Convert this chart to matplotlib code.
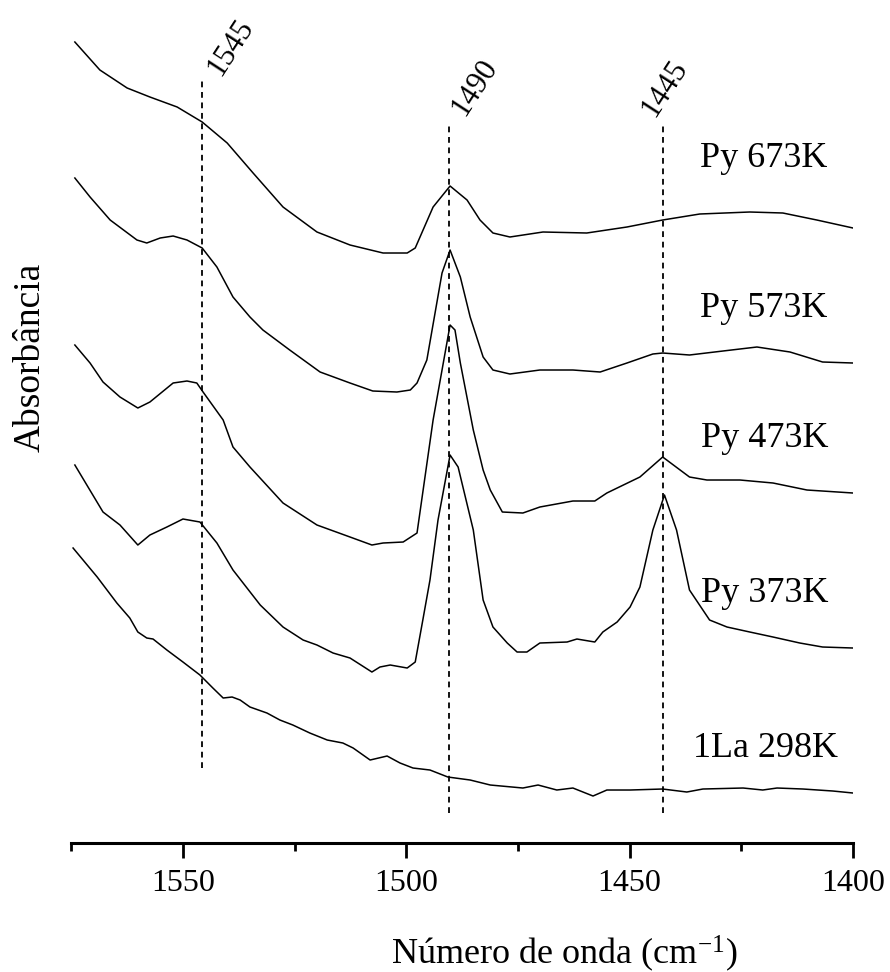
import matplotlib
matplotlib.use('Agg')
import matplotlib.pyplot as plt

plt.rcParams['font.family'] = ['Liberation Serif', 'DejaVu Serif']
plt.rcParams['mathtext.fontset'] = 'custom'
plt.rcParams['mathtext.rm'] = 'Liberation Serif'
plt.rcParams['mathtext.it'] = 'Liberation Serif:italic'

# ---- data (wavenumber cm-1, absorbance in arbitrary stacked units) ----
wn_673 = [1574.2, 1568.6, 1562.5, 1557.4, 1551.3, 1545.7, 1540.1, 1534.3, 1527.6, 1520.0,
          1512.6, 1505.2, 1499.8, 1498.0, 1494.0, 1490.2, 1486.4, 1483.5, 1480.6, 1476.8,
          1469.4, 1459.6, 1450.6, 1442.6, 1434.3, 1423.1, 1415.7, 1408.1, 1400.0]
abs_673 = [8.01, 7.73, 7.55, 7.46, 7.36, 7.21, 7.00, 6.70, 6.36, 6.11,
           5.98, 5.90, 5.90, 5.95, 6.36, 6.57, 6.43, 6.23, 6.10, 6.06,
           6.11, 6.10, 6.16, 6.23, 6.29, 6.31, 6.30, 6.23, 6.15]

wn_573 = [1574.2, 1570.8, 1566.3, 1560.3, 1558.1, 1555.1, 1552.2, 1549.1, 1545.7, 1542.4,
          1538.8, 1535.0, 1532.1, 1526.1, 1519.3, 1512.6, 1507.5, 1502.1, 1499.1, 1497.6,
          1495.4, 1492.0, 1490.2, 1487.9, 1485.7, 1482.8, 1480.6, 1476.8, 1470.1, 1462.7,
          1456.6, 1450.6, 1444.8, 1442.6, 1436.6, 1429.1, 1421.5, 1414.1, 1406.8, 1400.0]
abs_573 = [6.65, 6.46, 6.23, 6.03, 6.00, 6.05, 6.07, 6.03, 5.95, 5.76,
           5.46, 5.26, 5.13, 4.93, 4.71, 4.60, 4.52, 4.51, 4.53, 4.60,
           4.83, 5.70, 5.93, 5.66, 5.26, 4.86, 4.73, 4.69, 4.73, 4.73,
           4.71, 4.80, 4.89, 4.90, 4.88, 4.92, 4.96, 4.91, 4.81, 4.80]

wn_473 = [1574.2, 1570.8, 1567.9, 1564.1, 1560.1, 1557.4, 1552.2, 1549.1, 1546.9, 1545.5,
          1541.0, 1538.8, 1535.0, 1527.6, 1520.0, 1512.6, 1507.7, 1505.2, 1500.7, 1497.6,
          1494.0, 1490.2, 1489.1, 1487.9, 1485.0, 1482.8, 1481.2, 1478.5, 1473.9, 1470.1,
          1462.7, 1457.8, 1455.1, 1447.7, 1442.6, 1436.6, 1432.7, 1425.3, 1417.9, 1410.3,
          1400.0]
abs_473 = [4.98, 4.80, 4.61, 4.46, 4.35, 4.41, 4.60, 4.62, 4.60, 4.51,
           4.23, 3.96, 3.76, 3.40, 3.18, 3.06, 2.98, 3.00, 3.01, 3.10,
           4.23, 5.18, 5.13, 4.80, 4.13, 3.73, 3.53, 3.31, 3.30, 3.36,
           3.42, 3.42, 3.50, 3.66, 3.86, 3.66, 3.63, 3.63, 3.60, 3.53,
           3.50]

wn_373 = [1574.2, 1567.9, 1564.1, 1560.1, 1557.4, 1553.6, 1550.0, 1546.2, 1542.4, 1538.8,
          1532.7, 1527.6, 1523.1, 1520.0, 1516.4, 1512.6, 1507.7, 1505.9, 1503.6, 1499.8,
          1498.0, 1496.3, 1494.7, 1492.9, 1490.2, 1488.4, 1485.0, 1482.8, 1480.6, 1477.4,
          1475.2, 1473.0, 1470.1, 1464.0, 1461.8, 1457.8, 1456.0, 1452.8, 1449.9, 1447.7,
          1444.8, 1442.2, 1439.5, 1436.6, 1432.1, 1428.2, 1423.1, 1417.9, 1411.9, 1406.8,
          1400.0]
abs_373 = [3.78, 3.31, 3.18, 2.98, 3.08, 3.16, 3.24, 3.21, 3.00, 2.73,
           2.38, 2.16, 2.03, 1.98, 1.90, 1.85, 1.71, 1.76, 1.78, 1.75,
           1.81, 2.23, 2.63, 3.23, 3.88, 3.76, 3.13, 2.43, 2.16, 2.00,
           1.91, 1.91, 2.00, 2.01, 2.04, 2.01, 2.11, 2.21, 2.36, 2.56,
           3.13, 3.48, 3.13, 2.53, 2.23, 2.16, 2.11, 2.06, 2.00, 1.96,
           1.95]

wn_298 = [1574.6, 1569.2, 1564.8, 1561.9, 1560.1, 1558.1, 1556.7, 1553.6, 1550.0, 1546.2,
          1543.3, 1541.0, 1539.0, 1537.2, 1535.0, 1531.2, 1528.3, 1525.4, 1521.6, 1517.7,
          1514.2, 1511.9, 1508.1, 1504.3, 1501.4, 1498.5, 1494.7, 1490.7, 1485.7, 1481.2,
          1473.9, 1470.5, 1466.3, 1462.7, 1458.2, 1455.1, 1449.9, 1442.6, 1437.2, 1433.6,
          1424.6, 1420.2, 1417.0, 1411.2, 1404.5, 1400.0]
abs_298 = [2.95, 2.66, 2.40, 2.25, 2.11, 2.05, 2.04, 1.93, 1.81, 1.68,
           1.55, 1.45, 1.46, 1.43, 1.36, 1.30, 1.23, 1.18, 1.10, 1.03,
           1.00, 0.95, 0.83, 0.87, 0.80, 0.75, 0.73, 0.66, 0.63, 0.58,
           0.55, 0.58, 0.53, 0.55, 0.47, 0.53, 0.53, 0.54, 0.51, 0.54,
           0.55, 0.53, 0.55, 0.54, 0.52, 0.50]

series_labels = ['Py 673K', 'Py 573K', 'Py 473K', 'Py 373K', '1La 298K']
peak_labels = ['1545', '1490', '1445']
peak_positions = [1545.7, 1490.4, 1442.6]

xticks_major = [1550, 1500, 1450, 1400]
xticks_minor = [1575, 1525, 1475, 1425]

# ---- figure ----
fig = plt.figure(figsize=(8.9, 9.72), dpi=100)
ax = fig.add_axes([0.0801, 0.1327, 0.8783, 0.8673])

all_wn = [wn_673, wn_573, wn_473, wn_373, wn_298]
all_abs = [abs_673, abs_573, abs_473, abs_373, abs_298]
for w, a in zip(all_wn, all_abs):
    ax.plot(w, a, color='black', lw=1.1, solid_joinstyle='round')

# dashed reference lines
line_tops = [7.63, 7.20, 7.20]
line_bottoms = [0.75, 0.30, 0.30]
for p, t, b in zip(peak_positions, line_tops, line_bottoms):
    ax.plot([p, p], [b, t], color='black', lw=1.3, linestyle=(0, (3.2, 2.6)))

# rotated peak labels
peak_label_xy = [(1539.3, 7.96), (1484.6, 7.56), (1442.1, 7.55)]
for txt, (x, y) in zip(peak_labels, peak_label_xy):
    ax.text(x, y, txt, rotation=57, ha='center', va='center',
            rotation_mode='anchor', fontsize=22)

# series labels
series_label_xy = [(1419.9, 6.76), (1419.9, 5.26), (1419.7, 3.96), (1419.7, 2.41), (1419.5, 0.86)]
for txt, (x, y) in zip(series_labels, series_label_xy):
    ax.text(x, y, txt, ha='center', va='baseline', fontsize=26)

ax.set_xlim(1575, 1400)
ax.set_ylim(0, 8.43)

for s in ['top', 'left', 'right']:
    ax.spines[s].set_visible(False)
ax.spines['bottom'].set_linewidth(2.2)
ax.set_yticks([])
ax.set_xticks(xticks_major)
ax.set_xticks(xticks_minor, minor=True)
ax.tick_params(axis='x', which='major', direction='out', length=11, width=2,
               labelsize=23, pad=8)
ax.tick_params(axis='x', which='minor', direction='out', length=6, width=2)

fig.text(564 / 890, 1 - 964 / 972, 'Número de onda (cm$^{\\mathregular{-1}}$)',
         ha='center', va='baseline', fontsize=26)
fig.text(30 / 890, 1 - 357 / 972, 'Absorbância', rotation=90,
         ha='center', va='center', fontsize=27)

fig.savefig('out.png', dpi=100, facecolor='white')
